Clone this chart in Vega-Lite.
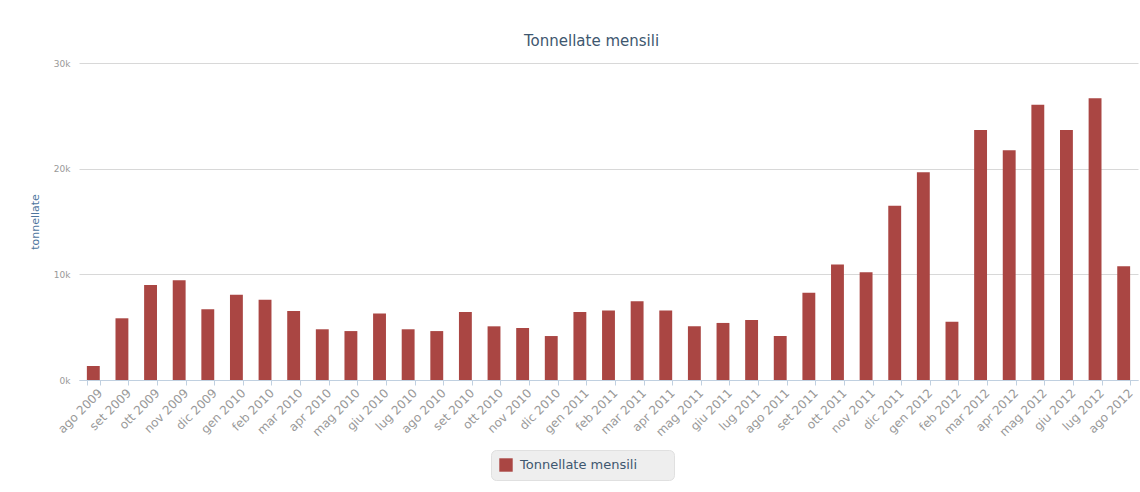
{
  "$schema": "https://vega.github.io/schema/vega-lite/v6.json",
  "autosize": "none",
  "width": 1059,
  "height": 317,
  "padding": {"left": 79, "top": 63, "right": 2, "bottom": 112},
  "background": "white",
  "title": {
    "text": "Tonnellate mensili",
    "font": "DejaVu Sans",
    "fontSize": 15,
    "fontWeight": "normal",
    "color": "#3E576F",
    "anchor": "middle",
    "dx": -17,
    "offset": 10
  },
  "data": {
    "values": [
      {"mese": "ago 2009", "t": 1330},
      {"mese": "set 2009", "t": 5840},
      {"mese": "ott 2009", "t": 8980},
      {"mese": "nov 2009", "t": 9430},
      {"mese": "dic 2009", "t": 6700},
      {"mese": "gen 2010", "t": 8070},
      {"mese": "feb 2010", "t": 7600},
      {"mese": "mar 2010", "t": 6540},
      {"mese": "apr 2010", "t": 4800},
      {"mese": "mag 2010", "t": 4630},
      {"mese": "giu 2010", "t": 6290},
      {"mese": "lug 2010", "t": 4800},
      {"mese": "ago 2010", "t": 4630},
      {"mese": "set 2010", "t": 6440},
      {"mese": "ott 2010", "t": 5080},
      {"mese": "nov 2010", "t": 4920},
      {"mese": "dic 2010", "t": 4160},
      {"mese": "gen 2011", "t": 6440},
      {"mese": "feb 2011", "t": 6570},
      {"mese": "mar 2011", "t": 7460},
      {"mese": "apr 2011", "t": 6570},
      {"mese": "mag 2011", "t": 5080},
      {"mese": "giu 2011", "t": 5400},
      {"mese": "lug 2011", "t": 5680},
      {"mese": "ago 2011", "t": 4160},
      {"mese": "set 2011", "t": 8250},
      {"mese": "ott 2011", "t": 10920},
      {"mese": "nov 2011", "t": 10190},
      {"mese": "dic 2011", "t": 16480},
      {"mese": "gen 2012", "t": 19650},
      {"mese": "feb 2012", "t": 5520},
      {"mese": "mar 2012", "t": 23650},
      {"mese": "apr 2012", "t": 21750},
      {"mese": "mag 2012", "t": 26060},
      {"mese": "giu 2012", "t": 23650},
      {"mese": "lug 2012", "t": 26670},
      {"mese": "ago 2012", "t": 10760}
    ]
  },
  "mark": {"type": "bar"},
  "encoding": {
    "x": {
      "field": "mese",
      "type": "nominal",
      "sort": null,
      "scale": {"paddingInner": 0.55, "paddingOuter": 0.275},
      "axis": {
        "title": null,
        "labelAngle": -45,
        "labelAlign": "right",
        "labelBaseline": "top",
        "labelFont": "DejaVu Sans",
        "labelFontSize": 12,
        "labelColor": "#999999",
        "labelPadding": 2,
        "labelOffset": 3,
        "domainColor": "#C0D0E0",
        "tickColor": "#C0D0E0",
        "tickSize": 5,
        "tickBand": "extent",
        "grid": false
      }
    },
    "y": {
      "field": "t",
      "type": "quantitative",
      "scale": {"domain": [0, 30000], "nice": false},
      "axis": {
        "title": "tonnellate",
        "titleFont": "DejaVu Sans",
        "titleFontSize": 11,
        "titleFontWeight": "normal",
        "titleColor": "#4D759E",
        "titlePadding": 13,
        "values": [0, 10000, 20000, 30000],
        "labelExpr": "datum.value / 1000 + 'k'",
        "labelFont": "DejaVu Sans",
        "labelFontSize": 9,
        "labelColor": "#999999",
        "labelPadding": 9,
        "ticks": false,
        "domain": false,
        "grid": true,
        "gridColor": "#D8D8D8"
      }
    },
    "color": {
      "datum": "Tonnellate mensili",
      "type": "nominal",
      "scale": {"range": ["#AA4643"]},
      "legend": {
        "title": null,
        "orient": "none",
        "legendX": 412,
        "legendY": 387,
        "direction": "horizontal",
        "symbolType": "square",
        "symbolSize": 180,
        "symbolStrokeWidth": 0,
        "labelFont": "DejaVu Sans",
        "labelFontSize": 13,
        "labelColor": "#3E576F",
        "labelExpr": "datum.label + '\u2800\u2800\u2800'",
        "fillColor": "#EEEEEE",
        "strokeColor": "#E0E0E0",
        "cornerRadius": 5,
        "padding": 8,
        "labelLimit": 400
      }
    }
  },
  "config": {
    "view": {"stroke": null},
    "legend": {"labelOffset": 7}
  }
}
